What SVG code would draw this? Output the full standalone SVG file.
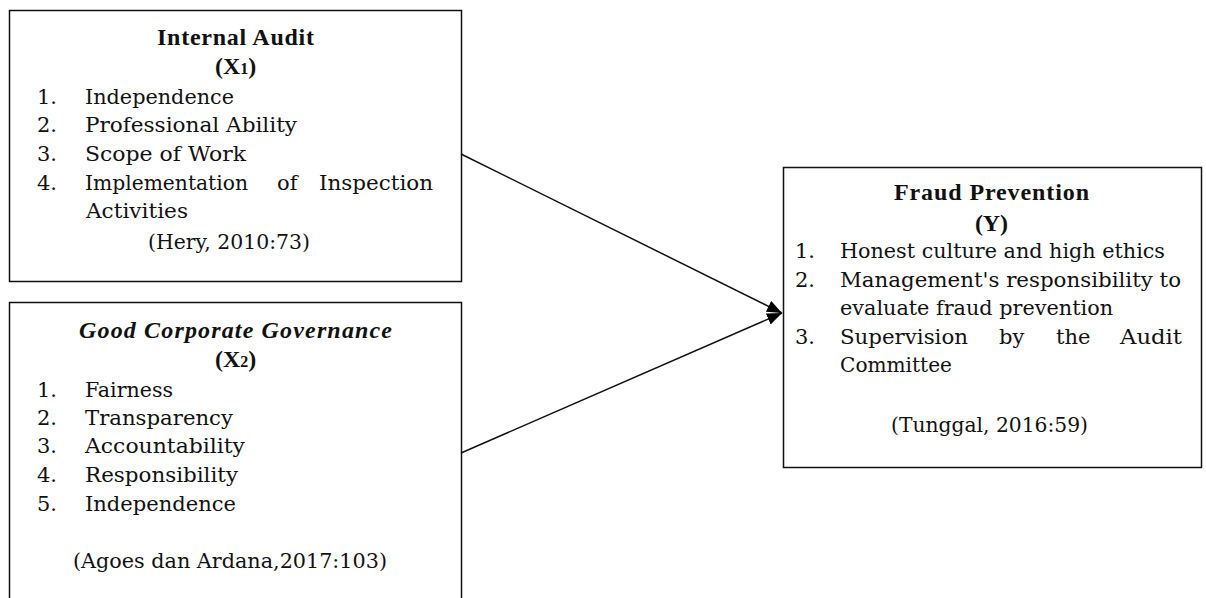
<svg xmlns="http://www.w3.org/2000/svg" width="1206" height="598" viewBox="0 0 1206 598">
<style>
.box{fill:#fff;stroke:#111;stroke-width:1.5}
text{font-family:"DejaVu Serif","Liberation Serif",serif;font-size:21px;fill:#111}
.b{font-family:"Liberation Serif","Times New Roman",serif;font-size:24px;font-weight:bold}
.bi{font-family:"Liberation Serif","Times New Roman",serif;font-size:24px;font-weight:bold;font-style:italic}
.conn{stroke:#111;stroke-width:1.5;fill:none}
</style>
<defs>
<marker id="ah" markerUnits="userSpaceOnUse" markerWidth="16" markerHeight="12" refX="15" refY="6" orient="auto">
<path d="M0,0 L15,6 L0,12 z" fill="#000"/>
</marker>
</defs>
<g id="internal-audit">
<rect class="box" x="9.5" y="10.5" width="452" height="271"/>
<text class="b" x="157" y="45" textLength="157" lengthAdjust="spacing">Internal Audit</text>
<text class="b" x="215" y="74">(X<tspan font-size="16">1</tspan>)</text>
<text x="37" y="104">1.</text><text x="85" y="104" textLength="149" lengthAdjust="spacingAndGlyphs">Independence</text>
<text x="37" y="132">2.</text><text x="85" y="132" textLength="212" lengthAdjust="spacingAndGlyphs">Professional Ability</text>
<text x="37" y="161">3.</text><text x="85" y="161" textLength="161" lengthAdjust="spacingAndGlyphs">Scope of Work</text>
<text x="37" y="190">4.</text><text x="85" y="190" textLength="163" lengthAdjust="spacingAndGlyphs">Implementation</text>
<text x="277" y="190">of</text>
<text x="319" y="190" textLength="114" lengthAdjust="spacingAndGlyphs">Inspection</text>
<text x="86" y="218" textLength="102" lengthAdjust="spacingAndGlyphs">Activities</text>
<text x="148" y="249" textLength="162" lengthAdjust="spacingAndGlyphs">(Hery, 2010:73)</text>
</g>
<g id="gcg">
<rect class="box" x="9.5" y="302.5" width="452" height="310"/>
<text class="bi" x="79" y="338" textLength="313" lengthAdjust="spacing">Good Corporate Governance</text>
<text class="b" x="215" y="367">(X<tspan font-size="16">2</tspan>)</text>
<text x="37" y="397">1.</text><text x="85" y="397" textLength="88" lengthAdjust="spacingAndGlyphs">Fairness</text>
<text x="37" y="425">2.</text><text x="85" y="425" textLength="148" lengthAdjust="spacingAndGlyphs">Transparency</text>
<text x="37" y="453">3.</text><text x="85" y="453" textLength="160" lengthAdjust="spacingAndGlyphs">Accountability</text>
<text x="37" y="482">4.</text><text x="85" y="482" textLength="153" lengthAdjust="spacingAndGlyphs">Responsibility</text>
<text x="37" y="511">5.</text><text x="85" y="511" textLength="151" lengthAdjust="spacingAndGlyphs">Independence</text>
<text x="73" y="568" textLength="314" lengthAdjust="spacingAndGlyphs">(Agoes dan Ardana,2017:103)</text>
</g>
<g id="fraud-prevention">
<rect class="box" x="783.5" y="167.5" width="418" height="300"/>
<text class="b" x="894" y="200" textLength="195" lengthAdjust="spacing">Fraud Prevention</text>
<text class="b" x="975" y="231" textLength="33" lengthAdjust="spacing">(Y)</text>
<text x="795" y="258">1.</text><text x="840" y="258" textLength="325" lengthAdjust="spacingAndGlyphs">Honest culture and high ethics</text>
<text x="795" y="287">2.</text><text x="840" y="287" textLength="341" lengthAdjust="spacingAndGlyphs">Management's responsibility to</text>
<text x="840" y="315" textLength="273" lengthAdjust="spacingAndGlyphs">evaluate fraud prevention</text>
<text x="795" y="344">3.</text><text x="840" y="344" textLength="128" lengthAdjust="spacingAndGlyphs">Supervision</text>
<text x="999" y="344">by</text>
<text x="1056" y="344">the</text>
<text x="1120" y="344" textLength="62" lengthAdjust="spacingAndGlyphs">Audit</text>
<text x="840" y="372" textLength="112" lengthAdjust="spacingAndGlyphs">Committee</text>
<text x="891" y="432" textLength="197" lengthAdjust="spacingAndGlyphs">(Tunggal, 2016:59)</text>
</g>
<g id="connectors">
<line class="conn" x1="461" y1="154" x2="782" y2="313" marker-end="url(#ah)"/>
<line class="conn" x1="461" y1="453" x2="782" y2="313" marker-end="url(#ah)"/>
</g>
</svg>
